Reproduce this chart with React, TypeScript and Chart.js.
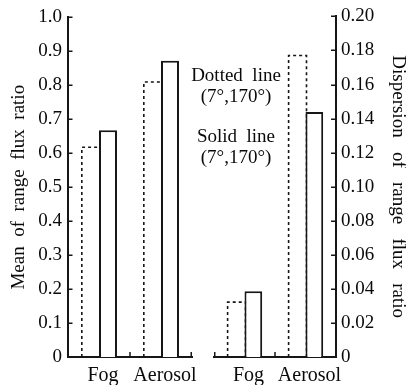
import React, { useEffect, useRef } from 'react';
import { Chart, registerables } from 'chart.js';

Chart.register(...registerables);

const categories = ['Fog', 'Aerosol'];
const meanDotted = [0.62, 0.812];
const meanSolid = [0.668, 0.872];
const dispDotted = [0.0327, 0.1775];
const dispSolid = [0.0386, 0.1438];
const meanTicks = ['0', '0.1', '0.2', '0.3', '0.4', '0.5', '0.6', '0.7', '0.8', '0.9', '1.0'];
const dispTicks = ['0', '0.02', '0.04', '0.06', '0.08', '0.10', '0.12', '0.14', '0.16', '0.18', '0.20'];
const noteLines = ['Dotted  line', '(7°,170°)', 'Solid  line', '(7°,170°)'];
const leftTitle = 'Mean  of  range  flux  ratio';
const rightTitle = 'Dispersion   of   range   flux   ratio';

const INK = '#161616';
const TEXT = '#0a0a0a';
const FONT = "'Liberation Serif', 'Times New Roman', serif";
const W = 406;
const H = 385;

const panelPlugin = {
  id: 'panelPlugin',
  beforeDatasetsDraw(chart: any) {
    const ctx = chart.ctx;
    chart.data.datasets.forEach((ds: any, i: number) => {
      if (!ds.dashed) return;
      const meta = chart.getDatasetMeta(i);
      meta.data.forEach((el: any) => {
        const { x, y, base, width } = el.getProps(['x', 'y', 'base', 'width'], true);
        const l = x - width / 2;
        const r = x + width / 2;
        ctx.save();
        ctx.setLineDash([3, 3]);
        ctx.lineWidth = 1.6;
        ctx.strokeStyle = INK;
        ctx.beginPath();
        ctx.moveTo(l + 0.8, base);
        ctx.lineTo(l + 0.8, y + 0.8);
        ctx.lineTo(r + 1, y + 0.8);
        ctx.lineTo(r + 1, base);
        ctx.stroke();
        ctx.restore();
      });
    });
  },
  afterDraw(chart: any) {
    const ctx = chart.ctx;
    const opts = chart.options.plugins.panelPlugin || {};
    const ys = chart.scales.y;
    const xs = chart.scales.x;
    const ca = chart.chartArea;
    ctx.save();
    ctx.strokeStyle = INK;
    ctx.lineWidth = 1.5;
    ctx.setLineDash([]);
    // inward y ticks
    ys.ticks.forEach((t: any) => {
      const py = Math.round(ys.getPixelForValue(t.value)) + 0.25;
      ctx.beginPath();
      if (opts.side === 'left') {
        ctx.moveTo(ca.left, py);
        ctx.lineTo(ca.left + 4.5, py);
      } else {
        ctx.moveTo(ca.right, py);
        ctx.lineTo(ca.right - 5, py);
      }
      ctx.stroke();
    });
    // inward x ticks at category boundaries
    const step = (xs.right - xs.left) / categories.length;
    (opts.xEdges || []).forEach((k: number) => {
      let px = xs.left + k * step;
      if (k === categories.length) px -= 0.75;
      if (k === 0) px += 0.75;
      ctx.beginPath();
      ctx.moveTo(px, ca.bottom);
      ctx.lineTo(px, ca.bottom - 5);
      ctx.stroke();
    });
    // annotation
    if (opts.notes) {
      ctx.fillStyle = TEXT;
      ctx.font = `19px ${FONT}`;
      ctx.textAlign = 'center';
      ctx.textBaseline = 'middle';
      const cx = ca.left + 22;
      const offs = [60, 81, 121, 142];
      opts.notes.forEach((s: string, i: number) => {
        ctx.fillText(s, cx, ca.top + offs[i]);
      });
    }
    ctx.restore();
  },
};

function makeConfig(side: 'left' | 'right'): any {
  const isLeft = side === 'left';
  const dotted = isLeft ? meanDotted : dispDotted;
  const solid = isLeft ? meanSolid : dispSolid;
  const tickLabels = isLeft ? meanTicks : dispTicks;
  return {
    type: 'bar',
    data: {
      labels: categories,
      datasets: [
        {
          label: '7°',
          data: dotted,
          dashed: true,
          backgroundColor: 'rgba(0,0,0,0)',
          borderColor: 'rgba(0,0,0,0)',
          borderWidth: 0,
        },
        {
          label: '170°',
          data: solid,
          backgroundColor: '#ffffff',
          borderColor: INK,
          borderWidth: 2,
          borderSkipped: 'start',
        },
      ],
    },
    options: {
      responsive: false,
      animation: false,
      devicePixelRatio: 1,
      events: [],
      layout: {
        padding: isLeft
          ? { left: 0, right: W - 192, top: 15, bottom: 0 }
          : { left: 214, right: 0, top: 15, bottom: 0 },
      },
      datasets: {
        bar: { categoryPercentage: 0.58, barPercentage: 1 },
      },
      plugins: {
        legend: { display: false },
        tooltip: { enabled: false },
        panelPlugin: {
          side,
          xEdges: isLeft ? [1, 2] : [0, 1],
          notes: isLeft ? null : noteLines,
        },
      },
      scales: {
        x: {
          type: 'category',
          position: 'bottom',
          grid: { display: false, drawTicks: false },
          border: { display: true, color: INK, width: 2 },
          ticks: {
            color: TEXT,
            font: { family: FONT, size: 20 },
            padding: 7,
            labelOffset: 4,
            maxRotation: 0,
            autoSkip: false,
          },
          afterFit: (s: any) => {
            s.height = 28;
          },
        },
        y: {
          position: side,
          min: 0,
          max: isLeft ? 1 : 0.2,
          grid: { display: false, drawTicks: false },
          border: { display: true, color: INK, width: 2 },
          ticks: {
            stepSize: isLeft ? 0.1 : 0.02,
            color: TEXT,
            font: { family: FONT, size: 19 },
            padding: isLeft ? 6 : 5,
            callback: (_v: any, i: number) => tickLabels[i],
          },
          title: {
            display: true,
            text: isLeft ? leftTitle : rightTitle,
            color: TEXT,
            font: { family: FONT, size: 19, lineHeight: isLeft ? 1.2 : 0.85 },
            padding: isLeft ? { top: 8, bottom: 0 } : { top: 0, bottom: 0 },
          },
          afterFit: (s: any) => {
            s.width = isLeft ? 68 : W - 336;
          },
        },
      },
    },
    plugins: [panelPlugin],
  };
}

export default function App() {
  const leftRef = useRef<HTMLCanvasElement>(null);
  const rightRef = useRef<HTMLCanvasElement>(null);

  useEffect(() => {
    const a = new Chart(leftRef.current as HTMLCanvasElement, makeConfig('left'));
    const b = new Chart(rightRef.current as HTMLCanvasElement, makeConfig('right'));
    return () => {
      a.destroy();
      b.destroy();
    };
  }, []);

  const cv: React.CSSProperties = { position: 'absolute', left: 0, top: 0, width: W, height: H };
  return (
    <div style={{ position: 'absolute', left: 0, top: 0, width: W, height: H, background: '#fff' }}>
      <canvas ref={leftRef} width={W} height={H} style={cv} />
      <canvas ref={rightRef} width={W} height={H} style={cv} />
    </div>
  );
}
